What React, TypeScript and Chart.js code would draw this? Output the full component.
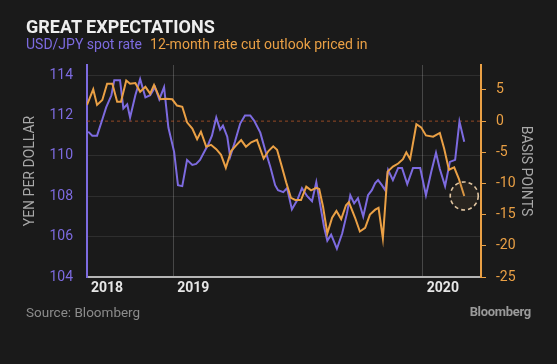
import React, { useEffect, useRef } from "react";
import { Chart, registerables } from "chart.js";

Chart.register(...registerables);

// x values are weeks relative to 2019-01-01
const usdJpyWeeks = [
  -17.75, -16.9, -15.9, -14.8, -14.0, -12.9, -12.3, -11.1, -10.4, -9.6, -9.0, -7.9, -6.9, -5.8, -4.8, -3.8,
  -2.9, -1.9, -1.0, 0.2, 1.0, 1.9, 2.9, 4.0, 4.8, 5.6, 6.5, 7.3, 8.1, 9.0, 9.8, 10.4, 11.3, 11.9, 12.9,
  14.0, 15.0, 16.1, 16.9, 18.2, 19.2, 20.3, 21.3, 21.9, 23.0, 23.8, 24.8, 25.9, 26.9, 28.0, 29.0, 29.9,
  30.7, 31.5, 32.2, 33.0, 34.2, 35.3, 36.3, 37.0, 37.8, 38.6, 39.7, 40.7, 41.5, 42.2, 42.8, 43.6, 44.3,
  44.9, 45.9, 47.0, 47.8, 48.9, 50.1, 51.6, 52.8, 53.9, 54.9, 55.7, 56.8, 57.8, 58.9, 59.8, 60.8,
];
const usdJpyValues = [
  111.2, 111.0, 111.0, 111.8, 112.4, 113.0, 113.75, 113.75, 112.35, 112.55, 111.9, 113.0, 113.8, 112.9, 113.0,
  113.4, 112.8, 113.4, 111.4, 110.2, 108.55, 108.5, 109.8, 109.55, 109.6, 109.8, 110.2, 110.55, 111.0, 111.9,
  111.3, 111.5, 110.95, 109.95, 110.7, 111.6, 112.0, 112.0, 111.75, 111.15, 110.3, 109.45, 108.55, 108.3,
  108.2, 108.4, 107.35, 107.8, 108.4, 108.0, 107.75, 108.7, 107.6, 106.5, 105.8, 106.1, 105.4, 106.15,
  107.15, 108.05, 107.65, 107.9, 107.0, 108.05, 108.3, 108.65, 108.8, 108.55, 108.3, 109.3, 108.8, 109.4,
  109.4, 108.6, 109.4, 109.4, 108.05, 109.2, 110.15, 109.35, 108.5, 109.7, 109.8, 111.7, 110.7,
];

const cutWeeks = [
  -18.0, -16.7, -15.9, -14.8, -13.8, -12.7, -11.7, -10.9, -9.8, -9.0, -7.9, -6.9, -5.8, -4.8, -4.0, -2.7,
  -1.5, -0.2, 0.8, 1.9, 2.9, 4.0, 5.0, 5.8, 6.9, 7.9, 9.0, 10.0, 11.0, 12.1, 13.2, 14.2, 15.2, 16.3, 17.5,
  18.9, 19.9, 20.9, 21.7, 22.7, 23.6, 24.6, 25.5, 26.7, 27.8, 28.8, 29.9, 30.5, 31.3, 32.2, 33.2, 34.1,
  35.1, 36.1, 36.7, 38.0, 39.0, 40.1, 41.1, 42.2, 42.9, 43.8, 44.8, 45.9, 47.0, 48.0, 48.7, 49.5, 50.8,
  51.8, 52.8, 54.3, 55.7, 56.6, 57.6, 58.7, 59.7, 60.8,
];
const cutValues = [
  2.6, 5.1, 2.6, 3.4, 6.0, 6.0, 3.1, 3.1, 6.5, 6.0, 6.1, 4.7, 5.5, 4.4, 5.8, 3.5, 3.6, 3.5, 2.5, 2.3, -0.2,
  -1.2, -2.9, -1.7, -4.1, -3.8, -4.5, -5.4, -7.5, -4.8, -3.85, -3.05, -4.1, -3.4, -3.0, -6.0, -4.8, -4.05,
  -4.6, -7.3, -9.8, -12.3, -12.65, -12.65, -10.5, -11.1, -10.7, -10.9, -13.7, -18.0, -15.5, -14.4, -15.7,
  -13.5, -13.0, -15.5, -17.7, -17.1, -15.0, -14.2, -13.9, -18.8, -8.1, -7.3, -6.8, -6.1, -5.0, -6.1, -0.5,
  -1.0, -2.3, -2.5, -1.9, -4.4, -7.8, -7.4, -9.3, -12.0,
];

const xTickWeeks = [-18, 0, 52.14];
const xTickLabels = ["2018", "2019", "2020"];

const PURPLE = "#7d6be0";
const ORANGE = "#eaa045";
const BG = "#1a1a1a";

const overlayPlugin = {
  id: "overlay",
  beforeDatasetsDraw(chart: any) {
    const { ctx, chartArea } = chart;
    const y = chart.scales.yR.getPixelForValue(0);
    ctx.save();
    ctx.strokeStyle = "rgba(190,90,40,0.75)";
    ctx.lineWidth = 1;
    ctx.setLineDash([3, 3]);
    ctx.beginPath();
    ctx.moveTo(chartArea.left, y);
    ctx.lineTo(chartArea.right, y);
    ctx.stroke();
    ctx.restore();
  },
  afterDatasetsDraw(chart: any) {
    const { ctx } = chart;
    const meta = chart.getDatasetMeta(0);
    const last = meta.data[meta.data.length - 1];
    if (!last) return;
    ctx.save();
    ctx.beginPath();
    ctx.arc(last.x, last.y, 14, 0, Math.PI * 2);
    ctx.fillStyle = "rgba(120,95,60,0.15)";
    ctx.fill();
    ctx.setLineDash([4, 3]);
    ctx.lineWidth = 1.6;
    ctx.strokeStyle = "rgba(245,215,175,0.9)";
    ctx.stroke();
    ctx.restore();
  },
};

export default function App() {
  const ref = useRef<HTMLCanvasElement | null>(null);
  useEffect(() => {
    if (!ref.current) return;
    Chart.defaults.font.family = "Roboto";
    const chart = new Chart(ref.current, {
      type: "line",
      data: {
        datasets: [
          {
            label: "12-month rate cut outlook priced in",
            data: cutWeeks.map((w, i) => ({ x: w, y: cutValues[i] })),
            borderColor: ORANGE,
            borderWidth: 2,
            pointRadius: 0,
            tension: 0,
            yAxisID: "yR",
          },
          {
            label: "USD/JPY spot rate",
            data: usdJpyWeeks.map((w, i) => ({ x: w, y: usdJpyValues[i] })),
            borderColor: PURPLE,
            borderWidth: 2,
            pointRadius: 0,
            tension: 0,
            yAxisID: "yL",
          },
        ],
      },
      options: {
        animation: false,
        responsive: false,
        maintainAspectRatio: false,
        layout: { padding: { top: 65, left: 0, right: 0, bottom: 0 } },
        plugins: { legend: { display: false }, tooltip: { enabled: false } },
        scales: {
          x: {
            type: "linear",
            min: -18,
            max: 64.3,
            afterBuildTicks: (s: any) => {
              s.ticks = xTickWeeks.map((v) => ({ value: v }));
            },
            afterFit: (s: any) => {
              s.height = 87;
            },
            ticks: {
              autoSkip: false,
              maxRotation: 0,
              align: "start",
              labelOffset: 4,
              padding: 3,
              color: "#e6e6e6",
              font: { size: 14, weight: "bold" },
              callback: (v: any) => {
                const i = xTickWeeks.indexOf(v);
                return i >= 0 ? xTickLabels[i] : "";
              },
            },
            grid: {
              drawTicks: false,
              color: (c: any) => (c.tick && c.tick.value === xTickWeeks[0] ? "rgba(0,0,0,0)" : "rgba(255,255,255,0.2)"),
              lineWidth: 1,
            },
            border: { color: "#b5b5b5", width: 2 },
          },
          yL: {
            type: "linear",
            position: "left",
            min: 104,
            max: 114.5,
            afterFit: (s: any) => {
              s.width = 87;
            },
            ticks: { stepSize: 2, includeBounds: false, color: PURPLE, padding: 14, font: { size: 14 } },
            grid: {
              drawTicks: false,
              color: (c: any) =>
                c.tick && (c.tick.value === 104 || c.tick.value === 112) ? "rgba(0,0,0,0)" : "rgba(255,255,255,0.09)",
            },
            border: { color: PURPLE, width: 2 },
            title: {
              display: true,
              text: "YEN PER DOLLAR",
              color: "#a9a9a9",
              font: { size: 14 },
              padding: { top: 21.6, bottom: 0 },
            },
          },
          yR: {
            type: "linear",
            position: "right",
            min: -25,
            max: 9,
            afterFit: (s: any) => {
              s.width = 76;
            },
            ticks: { stepSize: 5, includeBounds: false, color: ORANGE, padding: 10, font: { size: 14 } },
            grid: { drawOnChartArea: false, drawTicks: true, tickLength: 5, tickColor: ORANGE },
            border: { color: ORANGE, width: 2 },
            title: {
              display: true,
              text: "BASIS POINTS",
              color: "#a9a9a9",
              font: { size: 14 },
              padding: { top: 23.6, bottom: 0 },
            },
          },
        },
      },
      plugins: [overlayPlugin],
    });
    return () => chart.destroy();
  }, []);

  return (
    <div
      style={{
        position: "fixed",
        left: 0,
        top: 0,
        width: 557,
        height: 364,
        background: BG,
        fontFamily: "Roboto",
        overflow: "hidden",
      }}
    >
      <canvas ref={ref} width={557} height={364} style={{ position: "absolute", left: 0, top: 0 }} />
      <div
        style={{
          position: "absolute",
          left: 26,
          top: 18,
          fontSize: 18,
          lineHeight: "18px",
          fontWeight: 700,
          color: "#eeeeee",
          whiteSpace: "nowrap",
        }}
      >
        GREAT EXPECTATIONS
      </div>
      <div
        style={{
          position: "absolute",
          left: 26,
          top: 36.5,
          fontSize: 14,
          lineHeight: "15px",
          whiteSpace: "nowrap",
        }}
      >
        <span style={{ color: PURPLE }}>USD/JPY spot rate</span>
        <span style={{ color: ORANGE, marginLeft: 8 }}>12-month rate cut outlook priced in</span>
      </div>
      <div
        style={{
          position: "absolute",
          left: 26,
          top: 305,
          fontSize: 13.5,
          lineHeight: "14px",
          color: "#8c8c8c",
          whiteSpace: "nowrap",
        }}
      >
        Source: Bloomberg
      </div>
      <div
        style={{
          position: "absolute",
          right: 26,
          top: 305,
          fontSize: 13,
          lineHeight: "14px",
          fontWeight: 700,
          color: "#9a9a9a",
          whiteSpace: "nowrap",
          letterSpacing: -0.3,
        }}
      >
        Bloomberg
      </div>
    </div>
  );
}
